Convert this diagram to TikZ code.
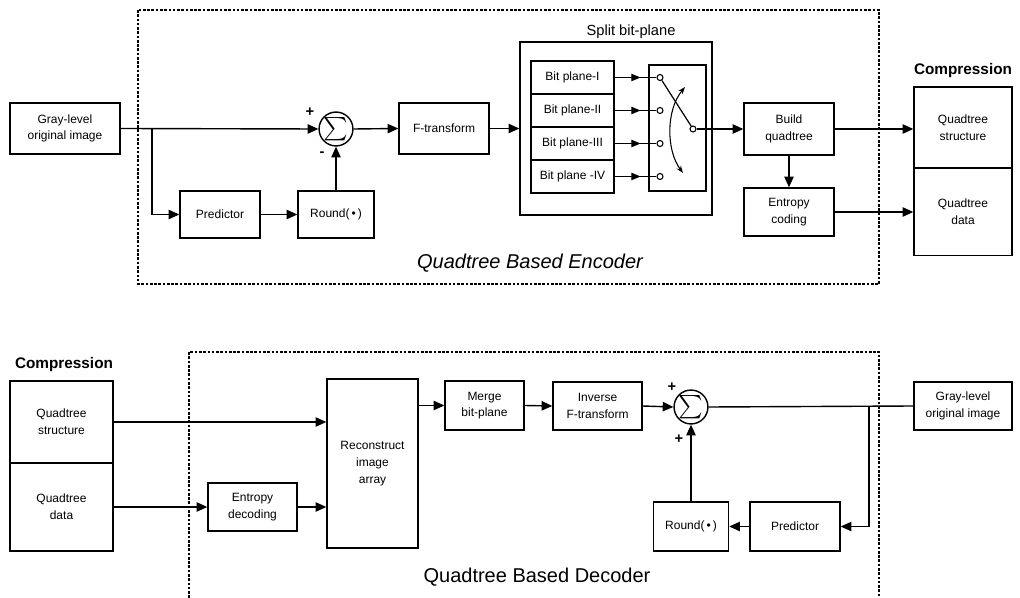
\documentclass[tikz,border=0pt]{standalone}
\usepackage{fontspec}
\setmainfont{Liberation Sans}
\usetikzlibrary{arrows.meta,calc}
\begin{document}
\begin{tikzpicture}[x=0.75pt,y=-0.75pt,
  sz/.style 2 args={minimum width=#1*0.75pt, minimum height=#2*0.75pt},
  blk/.style={draw, line width=1.05pt, inner sep=1pt, align=center, font=\fontsize{9}{12.5}\selectfont},
  ln/.style={line width=1.05pt},
  arr/.style={ln, -{Triangle[length=8pt,width=7pt]}},
  sarr/.style={ln, -{Triangle[length=7pt,width=5.5pt]}},
  dsh/.style={line width=1pt, dash pattern=on 2pt off 1.2pt},
  sumnode/.style={draw, circle, line width=1.05pt, minimum size=31*0.75pt, inner sep=0pt},
  contact/.style={draw, circle, line width=0.8pt, minimum size=6*0.75pt, inner sep=0pt, fill=white},
  sgn/.style={font=\fontsize{11}{11}\selectfont\bfseries, inner sep=0pt},
  ttl/.style={font=\fontsize{15}{18}\selectfont, inner sep=0pt},
  cmp/.style={font=\fontsize{11.5}{14}\selectfont\bfseries, inner sep=0pt}
]
\useasboundingbox (0,0) rectangle (1020,598);

% ================= ENCODER =================
\draw[dsh] (138,10) rectangle (879,284);
\node[ttl, font=\fontsize{15}{18}\selectfont\itshape] (enct) at (530,263) {Quadtree Based Encoder};

\node[blk, sz={110}{51}] (gray1) at (65,128.5) {Gray-level\\original image};
\node[blk, sz={80}{47}] (pred1) at (220,214.5) {Predictor};
\node[blk, sz={76}{47}] (round1) at (336,214.5) {Round(\,•\,)};
\node[sumnode] (sum1) at (336,129) {\scalebox{1.75}{$\textstyle\sum$}};
\node[sgn] (p1) at (310,112) {+};
\node[sgn] (m1) at (322,154) {-};
\node[blk, sz={90}{51}] (ftr) at (444,128.5) {F-transform};

\node[draw, ln, sz={192}{173}] (split) at (616,128.5) {};
\node[font=\fontsize{11}{13}\selectfont, inner sep=0pt] (splitl) at (631,32) {Split bit-plane};
\node[blk, sz={83}{33}] (bp1) at (572.5,77.5) {Bit plane-I};
\node[blk, sz={83}{33}] (bp2) at (572.5,110.5) {Bit plane-II};
\node[blk, sz={83}{33}] (bp3) at (572.5,143.5) {Bit plane-III};
\node[blk, sz={83}{33}] (bp4) at (572.5,176.5) {Bit plane -IV};
\node[draw, ln, sz={57}{126}] (sw) at (677.5,128) {};
\node[contact] (c1) at (660,77.5) {};
\node[contact] (c2) at (660,110.5) {};
\node[contact] (c3) at (660,143.5) {};
\node[contact] (c4) at (660,176.5) {};
\node[contact] (pole) at (693,129) {};
\foreach \i in {1,2,3,4}{
  \draw[ln] (bp\i.east) -- (c\i.west);
  \draw[sarr] (bp\i.east) -- ($(bp\i.east)!0.62!(c\i.west)$);
}
\draw[line width=0.9pt] (c1) -- (pole);
\draw[line width=0.8pt, {Stealth[length=5.5pt,width=4pt]}-{Stealth[length=5.5pt,width=4pt]}]
  (685,87) .. controls (666,110) and (666,150) .. (683,173);

\node[blk, sz={90}{52}] (bq) at (789,129) {Build\\quadtree};
\node[blk, sz={90}{48}] (ec) at (789,212) {Entropy\\coding};
\node[blk, sz={98}{81}] (cs1) at (963,127.5) {Quadtree\\structure};
\node[blk, sz={98}{88}] (cd1) at (963,211.5) {Quadtree\\data};
\node[cmp] (comp1) at (963,71) {Compression};

\coordinate (br1) at (152,128.5);
\draw[arr] (gray1.east) -- (sum1.west);
\draw[arr] (br1) |- (pred1.west);
\draw[arr] (pred1.east) -- (round1.west);
\draw[arr] (round1.north) -- (sum1.south);
\draw[arr] (sum1.east) -- (ftr.west);
\draw[arr] (ftr.east) -- (split.west);
\draw[arr] (pole.east) -- (bq.west);
\draw[arr] (bq.south) -- (ec.north);
\draw[arr] (bq.east) -- (bq.east -| cs1.west);
\draw[arr] (ec.east) -- (ec.east -| cd1.west);

% ================= DECODER =================
\draw[dsh] (189,598) -- (189,352) -- (879,352) -- (879,598);
\node[ttl] (dect) at (537,577) {Quadtree Based Decoder};

\node[cmp] (comp2) at (64,365) {Compression};
\node[blk, sz={103}{82}] (cs2) at (61.5,422) {Quadtree\\structure};
\node[blk, sz={103}{88}] (cd2) at (61.5,507) {Quadtree\\data};
\node[blk, sz={89}{48}] (ed) at (252.5,507) {Entropy\\decoding};
\node[blk, sz={91}{169}] (recon) at (372.5,463.5) {Reconstruct\\image\\array};
\node[blk, sz={79}{49}] (merge) at (484.5,405.5) {Merge\\bit-plane};
\node[blk, sz={89}{48}] (inv) at (597.5,406) {Inverse\\F-transform};
\node[sumnode] (sum2) at (691,407) {\scalebox{1.75}{$\textstyle\sum$}};
\node[sgn] (p2) at (672,387) {+};
\node[sgn] (p3) at (679,439) {+};
\node[blk, sz={98}{48}] (gray2) at (963,406) {Gray-level\\original image};
\node[blk, sz={90}{49}] (pred2) at (795,526.5) {Predictor};
\node[blk, sz={75}{49}] (round2) at (691,526.5) {Round(\,•\,)};

\coordinate (br2) at (869,407);
\draw[arr] (cs2.east) -- (cs2.east -| recon.west);
\draw[arr] (cd2.east) -- (ed.west);
\draw[arr] (ed.east) -- (ed.east -| recon.west);
\draw[arr] (merge.west -| recon.east) -- (merge.west);
\draw[arr] (merge.east) -- (inv.west);
\draw[arr] (inv.east) -- (sum2.west);
\draw[ln] (sum2.east) -- (gray2.west);
\draw[arr] (br2) |- (pred2.east);
\draw[arr] (pred2.west) -- (round2.east);
\draw[arr] (round2.north) -- (sum2.south);
\end{tikzpicture}
\end{document}
